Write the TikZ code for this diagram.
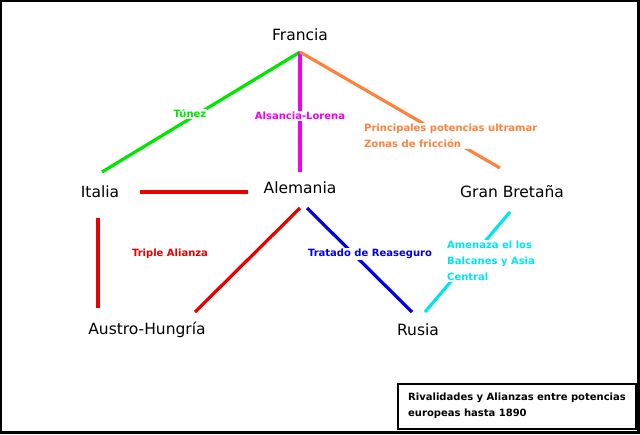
\documentclass[tikz,border=0pt]{standalone}
\usepackage{fontspec}
\setmainfont{DejaVu Sans}
\definecolor{cgreen}{RGB}{0,230,0}
\definecolor{cmag}{RGB}{240,0,240}
\definecolor{corange}{RGB}{255,130,60}
\definecolor{cred}{RGB}{235,0,0}
\definecolor{cblue}{RGB}{0,0,230}
\definecolor{ccyan}{RGB}{0,230,240}
\begin{document}
\begin{tikzpicture}[x=1pt,y=-1pt,
  country/.style={font=\fontsize{15.5}{17}\selectfont, inner sep=1pt},
  lbl/.style={font=\bfseries\fontsize{10}{16}\selectfont, inner sep=1pt, fill=white, align=left},
  link/.style={line width=3.2pt}]
\fill[black] (0,0) rectangle (640,434);
\fill[white] (2,2) rectangle (637,431);
\node[country] (fr) at (300,35) {Francia};
\node[country] (it) at (100,192) {Italia};
\node[country] (al) at (300,188) {Alemania};
\node[country] (gb) at (512,192) {Gran Bretaña};
\node[country] (ah) at (147,330) {Austro-Hungría};
\node[country] (ru) at (418,330) {Rusia};
\coordinate (frb) at (300,52);
\draw[link,cgreen] (frb) -- (102,172);
\draw[link,cmag] (frb) -- (300,172);
\draw[link,corange] (frb) -- (500,168);
\draw[link,cred] (140,192) -- (248,192);
\draw[link,cred] (98,218) -- (98,308);
\draw[link,cred] (300,208) -- (195,312);
\draw[link,cblue] (307,208) -- (412,312);
\draw[link,ccyan] (510,212) -- (425,312);
\node[lbl,text=cgreen] (l1) at (190,114) {Túnez};
\node[lbl,text=cmag] (l2) at (300,116) {Alsancia-Lorena};
\node[lbl,text=corange,anchor=west] (l3) at (363,136) {Principales potencias ultramar\\Zonas de fricción};
\node[lbl,text=cred,fill=none] (l4) at (170,254) {Triple Alianza};
\node[lbl,text=cblue] (l5) at (370,254) {Tratado de Reaseguro};
\node[lbl,text=ccyan,anchor=west] (l6) at (446,261) {Amenaza el los\\Balcanes y Asia\\Central};
\draw[line width=2.5pt,fill=white] (398,384) rectangle (636,429);
\node[lbl,text=black,fill=none,anchor=west] (leg) at (407,406) {Rivalidades y Alianzas entre potencias\\europeas hasta 1890};
\end{tikzpicture}
\end{document}
